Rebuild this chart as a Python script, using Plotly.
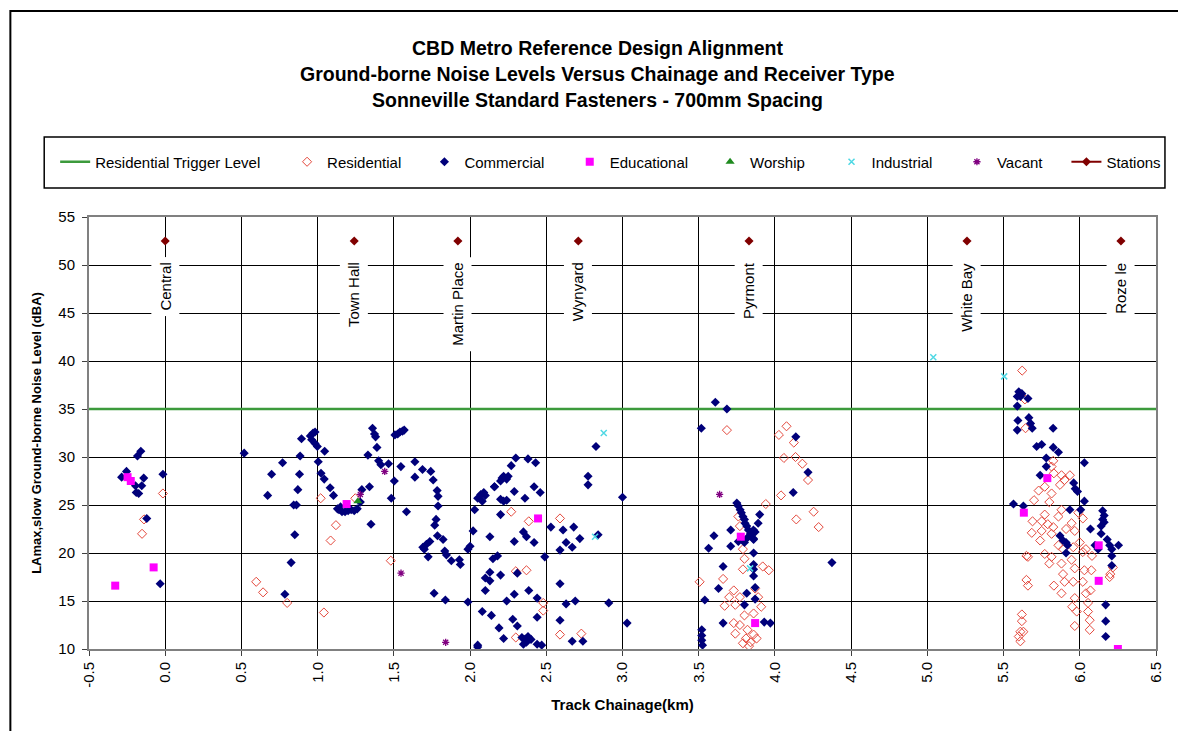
import plotly.graph_objects as go

# ---------------------------------------------------------------- data
TRIGGER_LEVEL = 35.0
X_RANGE = [-0.5, 6.5]
Y_RANGE = [10, 55]

x_tick_vals = [-0.5, 0.0, 0.5, 1.0, 1.5, 2.0, 2.5, 3.0, 3.5, 4.0, 4.5, 5.0, 5.5, 6.0, 6.5]
x_tick_text = ["-0.5", "0.0", "0.5", "1.0", "1.5", "2.0", "2.5", "3.0", "3.5",
               "4.0", "4.5", "5.0", "5.5", "6.0", "6.5"]
y_tick_vals = [10, 15, 20, 25, 30, 35, 40, 45, 50, 55]

station_names = ["Central", "Town Hall", "Martin Place", "Wynyard", "Pyrmont", "White Bay", "Roze le"]
station_km = [0.0, 1.24, 1.92, 2.71, 3.83, 5.26, 6.27]
station_level = [52.5, 52.5, 52.5, 52.5, 52.5, 52.5, 52.5]

commercial_km = [
    -0.286, -0.254, -0.19, -0.195, -0.174, -0.182, -0.16, -0.154, -0.141, -0.121, -0.015, -0.033,
    0.518, 0.672, 0.698, 0.77, 0.785, 0.826, 0.843, 0.861, 0.85, 0.87, 0.881, 0.885, 0.894,
    0.952, 0.97, 0.983, 0.961, 0.983, 0.998, 1.004, 1.046, 1.022, 1.043, 1.082, 1.104, 1.13,
    1.14, 1.16, 1.18, 1.20, 1.22, 1.24, 1.26, 1.15, 1.28, 1.29, 1.34, 1.35, 1.33, 1.36, 1.373,
    1.38, 1.389, 1.40, 1.415, 1.465, 1.483, 1.503, 1.507, 1.525, 1.54, 1.557, 1.568, 1.546,
    1.583, 1.638, 1.638, 1.688, 1.742, 1.758, 1.784, 1.79, 1.79, 1.777, 1.768, 1.786, 1.823,
    1.736, 1.714, 1.69, 1.70, 1.725, 1.834, 1.845, 1.877, 1.93, 1.936, 1.986, 2.0, 1.764,
    1.838, 1.986, 2.05,
    2.03, 2.02, 2.05, 2.07, 2.09, 2.10, 2.08, 2.16, 2.13, 2.15, 2.18, 2.13, 2.10, 2.13, 2.20,
    2.10, 2.08, 2.14, 2.19, 2.28, 2.31, 2.22, 2.34, 2.36, 2.38, 2.40, 2.37, 2.35, 2.44, 2.47,
    2.44, 2.24, 2.29, 2.31, 2.385, 2.44, 2.16, 2.20, 2.21, 2.22, 2.24, 2.25, 2.27, 2.30, 2.38,
    2.43, 2.20, 2.22, 2.24, 2.29, 2.20, 2.36, 2.42, 2.46, 2.29, 2.35, 2.37, 2.42, 2.49, 2.53,
    2.61, 2.68, 2.72, 2.63, 2.67, 2.59, 2.59, 2.63, 2.69, 2.59, 2.67, 2.74, 2.774, 2.774,
    2.826, 2.84, 2.91, 3.0, 3.03, 2.05,
    3.517, 3.609, 3.685, 3.75, 3.76, 3.772, 3.78, 3.79, 3.80, 3.804, 3.815, 3.826, 3.859, 3.87,
    3.89, 3.90, 3.859, 3.71, 3.60, 3.565, 3.71, 3.76, 3.80, 3.86, 3.86, 3.66, 3.86, 3.86, 3.86,
    3.87, 3.63, 3.815, 3.87, 3.54, 3.80, 3.66, 3.93, 3.97, 3.52, 3.52, 3.52, 3.525, 3.84, 3.82,
    4.137, 4.217, 4.12, 4.374,
    5.60, 5.611, 5.59, 5.62, 5.66, 5.59, 5.594, 5.59, 5.666, 5.677, 5.688, 5.825, 5.717, 5.75,
    5.826, 5.86, 5.78, 5.78, 5.74, 6.03, 5.96, 5.97, 5.985, 6.03, 5.565, 5.63, 5.935, 6.006,
    6.15, 6.16, 6.15, 6.16, 6.14, 6.07, 6.14, 6.18, 5.87, 5.89, 5.91, 5.92, 5.91, 6.10, 6.12,
    6.196, 6.21, 6.254, 6.21, 6.21, 6.17, 6.17, 6.17,
]
commercial_db = [
    27.9, 28.5, 26.3, 27.0, 26.2, 30.1, 30.6, 27.0, 27.8, 23.6, 28.2, 16.8,
    30.4, 26.0, 28.2, 29.4, 15.7, 19.0, 25.0, 25.0, 21.9, 26.6, 28.2, 30.1, 31.9,
    32.2, 32.5, 32.6, 31.8, 31.4, 31.1, 29.5, 30.6, 28.3, 27.7, 26.8, 26.0, 24.6,
    24.5, 24.3, 24.3, 24.4, 24.5, 24.4, 24.6, 24.8, 25.3, 26.6, 26.9, 23.0, 30.2, 33.0, 32.4,
    32.1, 31.0, 29.6, 29.2, 29.3, 25.7, 27.5, 32.3, 32.4, 32.6, 32.7, 32.8, 29.0,
    24.3, 29.5, 27.9, 28.7, 28.5, 27.6, 26.5, 25.9, 24.9, 23.5, 22.9, 21.8, 21.4,
    21.2, 20.9, 20.6, 20.4, 19.6, 20.2, 19.8, 19.2, 19.3, 18.8, 20.4, 20.7, 15.8,
    15.1, 14.9, 10.4,
    24.5, 22.3, 25.7, 26.1, 26.3, 26.0, 25.4, 26.9, 21.7, 19.4, 19.7, 18.0, 17.4, 17.1, 17.7,
    16.1, 13.9, 13.5, 12.2, 13.1, 12.4, 11.1, 11.2, 11.0, 11.3, 11.0, 10.7, 10.5, 10.5, 10.4,
    13.3, 15.0, 15.7, 17.9, 16.1, 15.3, 26.9, 27.5, 27.8, 28.0, 27.7, 28.0, 29.1, 29.9, 29.8,
    29.4, 25.6, 25.4, 25.5, 26.4, 24.0, 25.7, 26.9, 26.3, 21.2, 22.2, 21.7, 21.1, 19.6, 22.7,
    22.4, 22.7, 21.5, 21.1, 20.6, 20.3, 16.8, 14.7, 15.0, 13.0, 10.8, 10.8, 28.0, 27.1,
    31.1, 21.9, 14.8, 25.8, 12.7, 10.2,
    33.0, 35.7, 35.0, 25.2, 24.9, 24.5, 24.2, 23.8, 23.5, 23.1, 22.8, 22.4, 22.4, 22.2,
    23.1, 24.0, 21.5, 22.4, 21.8, 20.5, 20.7, 21.2, 21.1, 21.4, 20.0, 18.6, 18.8, 18.3, 17.6,
    16.4, 16.3, 15.8, 15.2, 15.1, 14.6, 12.7, 12.8, 12.7, 12.0, 11.4, 10.9, 10.4, 22.0, 21.6,
    32.1, 28.4, 26.3, 19.0,
    36.8, 36.3, 36.3, 36.6, 36.1, 35.3, 33.8, 32.8, 34.1, 33.5, 33.0, 33.0, 31.1, 31.3,
    31.0, 30.5, 29.9, 29.0, 28.1, 29.4, 27.3, 26.7, 26.4, 25.4, 25.1, 24.9, 24.5, 24.5,
    24.4, 23.9, 23.5, 23.2, 22.8, 22.5, 22.0, 21.4, 21.8, 21.3, 21.1, 20.8, 20.0, 20.8, 20.4,
    20.8, 20.4, 20.8, 19.7, 18.7, 14.6, 12.9, 11.3,
]

residential_km = [
    -0.015, -0.139, -0.152,
    0.597, 0.642, 0.80, 1.041, 1.02, 1.085, 1.12, 1.247, 1.48,
    2.27, 2.385, 2.59, 2.30, 2.37, 2.48, 2.48, 2.30, 2.59, 2.73,
    3.685, 4.076, 4.026, 4.124, 4.059, 4.135, 4.18, 4.217, 4.04, 3.94, 4.254, 4.14, 4.287,
    3.76, 3.77, 3.79, 3.80, 3.92, 3.96, 3.79, 3.66, 3.506, 3.73, 3.70, 3.77, 3.74, 3.67,
    3.87, 3.89, 3.91, 3.80, 3.86, 3.73, 3.77, 3.82, 3.86, 3.74, 3.81, 3.79, 3.84, 3.88, 3.83,
    5.622, 5.64, 5.644, 5.826, 5.815, 5.83, 5.88, 5.935, 5.90, 5.87, 5.77, 5.73, 5.815, 5.70,
    5.80, 5.88, 5.86, 5.77, 5.75, 5.69, 5.79, 5.826, 5.946, 5.91, 5.967, 6.02, 5.99, 5.815,
    5.75, 5.685, 5.74, 5.86, 5.89, 5.957, 6.0, 6.02, 6.04, 6.08, 5.77, 5.815, 5.80, 5.88,
    5.946, 5.967, 6.03, 6.076, 5.89, 5.90, 5.957, 6.02, 5.83, 5.88, 6.04, 6.07, 5.967, 6.054,
    5.95, 5.98, 6.054, 6.065, 5.967, 6.065, 6.217, 6.20, 6.196, 5.65, 5.66, 5.65, 5.66, 5.62,
    5.62, 5.61, 5.63, 5.60, 5.61,
]
residential_db = [
    26.2, 23.5, 22.0,
    17.0, 15.9, 14.8, 13.8, 25.7, 21.3, 22.9, 25.7, 19.2,
    24.3, 23.3, 23.6, 18.1, 18.2, 14.8, 14.0, 11.2, 11.5, 11.6,
    32.8, 33.2, 32.3, 31.5, 29.9, 30.0, 29.3, 27.6, 26.0, 25.1, 24.3, 23.5, 22.7,
    23.8, 22.8, 20.4, 19.4, 18.6, 18.2, 18.3, 17.3, 17.0, 16.1, 15.4, 15.4, 14.6, 14.5,
    16.3, 15.4, 14.4, 13.5, 13.7, 12.7, 12.5, 12.0, 11.5, 11.6, 11.1, 10.6, 10.7, 11.1, 10.3,
    39.0, 36.0, 33.0, 29.6, 29.0, 28.3, 28.1, 28.1, 27.6, 27.1, 26.9, 26.5, 26.2, 25.5,
    25.3, 24.5, 23.8, 24.0, 23.3, 23.3, 23.0, 22.7, 23.1, 22.5, 22.3, 23.6, 24.2, 22.0,
    22.3, 22.1, 21.3, 20.8, 20.4, 20.6, 21.1, 20.1, 20.4, 19.7, 19.9, 19.6, 18.9, 18.9,
    19.3, 18.4, 18.2, 18.2, 17.8, 17.0, 17.0, 17.0, 16.6, 15.8, 15.8, 16.1, 15.3, 14.8,
    14.4, 13.9, 13.9, 13.0, 12.4, 12.0, 18.5, 17.8, 17.5, 19.7, 19.6, 17.2, 16.6, 13.6,
    12.9, 11.8, 11.8, 11.3, 10.8,
]

educational_km = [-0.328, -0.076, -0.247, -0.226, 1.19, 2.446, 3.776, 3.87, 5.633, 5.787, 6.124, 6.124, 6.25]
educational_db = [16.6, 18.5, 27.9, 27.5, 25.1, 23.6, 21.7, 12.7, 24.2, 27.8, 20.8, 17.1, 10.0]

worship_km = [1.264]
worship_db = [25.4]

industrial_km = [2.877, 2.82, 3.837, 5.039, 5.504]
industrial_db = [32.5, 21.7, 18.4, 40.4, 38.4]

vacant_km = [1.28, 1.44, 1.547, 1.84, 3.637]
vacant_db = [26.1, 28.5, 17.9, 10.7, 26.1]

# ---------------------------------------------------------------- styling
FONT = "Liberation Sans, Arial, sans-serif"
W, H = 1178, 731
L, R, T, B = 89, 17, 217, 82          # plot area margins in pixels
PW, PH = W - L - R, H - T - B


def px_x(p):
    return (p - L) / PW


def px_y(p):
    return (H - B - p) / PH


legend_font = dict(family=FONT, size=15, color="black")

fig = go.Figure()

fig.add_trace(go.Scatter(
    x=X_RANGE, y=[TRIGGER_LEVEL, TRIGGER_LEVEL], mode="lines",
    name="Residential Trigger Level", line=dict(color="#3C9A3C", width=2.5),
    legend="legend", hoverinfo="skip"))

fig.add_trace(go.Scatter(
    x=residential_km, y=residential_db, mode="markers", name="Residential",
    marker=dict(symbol="diamond-open", size=7, color="#E4483C", line=dict(width=1)),
    legend="legend2"))

fig.add_trace(go.Scatter(
    x=commercial_km, y=commercial_db, mode="markers", name="Commercial",
    marker=dict(symbol="diamond", size=7, color="#00007A"),
    legend="legend3"))

fig.add_trace(go.Scatter(
    x=educational_km, y=educational_db, mode="markers", name="Educational",
    marker=dict(symbol="square", size=8, color="#FF00FF"),
    legend="legend4"))

fig.add_trace(go.Scatter(
    x=worship_km, y=worship_db, mode="markers", name="Worship",
    marker=dict(symbol="triangle-up", size=8, color="#1E8A1E"),
    legend="legend5"))

fig.add_trace(go.Scatter(
    x=industrial_km, y=industrial_db, mode="markers", name="Industrial",
    marker=dict(symbol="x-thin-open", size=6, color="#4FD8E4", line=dict(width=1.5)),
    legend="legend6"))

fig.add_trace(go.Scatter(
    x=vacant_km, y=vacant_db, mode="markers", name="Vacant",
    marker=dict(symbol="asterisk-open", size=6, color="#800080", line=dict(width=1.3)),
    legend="legend7"))

fig.add_trace(go.Scatter(
    x=station_km, y=station_level, mode="markers", name="Stations",
    marker=dict(symbol="diamond", size=7, color="#800000"),
    showlegend=False))
# legend entry for stations (line with marker)
fig.add_trace(go.Scatter(
    x=[None], y=[None], mode="lines+markers", name="Stations",
    line=dict(color="#800000", width=2),
    marker=dict(symbol="diamond", size=7, color="#800000"),
    legend="legend8"))

# station name labels
for name, km in zip(station_names, station_km):
    fig.add_annotation(
        x=km, y=50.9, xref="x", yref="y", text=name, showarrow=False,
        textangle=-90, xanchor="center", yanchor="top",
        bgcolor="white", borderpad=5,
        font=dict(family=FONT, size=15, color="black"))

# title lines
titles = ["CBD Metro Reference Design Alignment",
          "Ground-borne Noise Levels Versus Chainage and Receiver Type",
          "Sonneville Standard Fasteners - 700mm Spacing"]
for t, yp in zip(titles, [48, 74, 100]):
    fig.add_annotation(
        x=px_x(600), y=px_y(yp), xref="paper", yref="paper", text="<b>%s</b>" % t,
        showarrow=False, xanchor="center", yanchor="middle",
        font=dict(family=FONT, size=19.5, color="black"))

# outer chart frame and legend box
fig.add_shape(type="rect", xref="paper", yref="paper",
              x0=px_x(10), x1=px_x(1200), y0=px_y(760), y1=px_y(11),
              line=dict(color="black", width=2), layer="below")
fig.add_shape(type="rect", xref="paper", yref="paper",
              x0=px_x(44), x1=px_x(1170), y0=px_y(188), y1=px_y(137),
              line=dict(color="black", width=1.5), layer="below")

# one legend per entry so each sits at its own spot in the legend box
legend_starts = [55, 288, 426, 572, 713, 835, 961, 1071]
legend_layout = {}
for i, xs in enumerate(legend_starts):
    key = "legend" if i == 0 else "legend%d" % (i + 1)
    legend_layout[key] = dict(
        x=px_x(xs), y=px_y(162), xanchor="left", yanchor="middle",
        orientation="h", bgcolor="rgba(0,0,0,0)", borderwidth=0,
        font=legend_font, itemclick=False, itemdoubleclick=False)

axis_common = dict(
    showgrid=True, gridcolor="black", gridwidth=1,
    showline=True, linecolor="#808080", linewidth=2, mirror=True,
    ticks="outside", ticklen=5, tickcolor="#404040", tickwidth=1,
    zeroline=False,
    tickfont=dict(family=FONT, size=15, color="black"),
)

fig.update_layout(
    width=W, height=H,
    margin=dict(l=L, r=R, t=T, b=B, pad=0),
    paper_bgcolor="white", plot_bgcolor="white",
    showlegend=True,
    xaxis=dict(range=X_RANGE, tickvals=x_tick_vals, ticktext=x_tick_text,
               tickangle=-90,
               title=dict(text="<b>Track Chainage(km)</b>", standoff=13,
                          font=dict(family=FONT, size=15, color="black")),
               **axis_common),
    yaxis=dict(range=Y_RANGE, tickvals=y_tick_vals, ticklabelstandoff=4,
               title=dict(text="<b>LAmax,slow Ground-borne Noise Level (dBA)</b>", standoff=14,
                          font=dict(family=FONT, size=13, color="black")),
               **axis_common),
    **legend_layout,
)

fig.write_html("out.html")
